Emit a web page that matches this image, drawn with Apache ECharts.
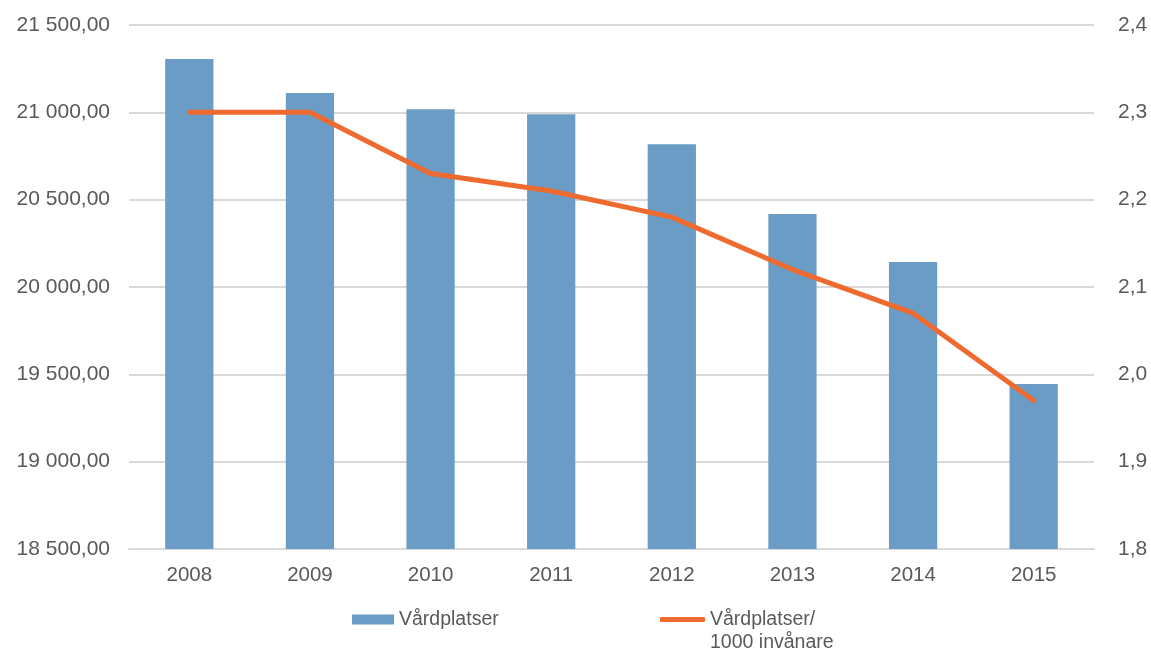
<!DOCTYPE html>
<html>
<head>
<meta charset="utf-8">
<script src="https://cdn.jsdelivr.net/npm/echarts@6/dist/echarts.min.js"></script>
<style>
  html, body { margin: 0; padding: 0; background: #fff; }
  #chart { width: 1151px; height: 652px; }
</style>
</head>
<body>
<div id="chart"></div>
<script>
/* data */
const years      = ['2008', '2009', '2010', '2011', '2012', '2013', '2014', '2015'];
const platser    = [21305, 21111, 21017, 20989, 20817, 20418, 20143, 19445];
const perTusen   = [2.30, 2.30, 2.23, 2.21, 2.18, 2.12, 2.07, 1.97];
const barName    = 'Vårdplatser';
const lineName   = 'Vårdplatser/\n1000 invånare';

const FONT = '"Liberation Sans", Arial, sans-serif';
const GREY = '#595959';

/* 21 500,00 */
const fmtLeft = (v) => {
  const parts = v.toFixed(2).split('.');
  return parts[0].replace(/\B(?=(\d{3})+(?!\d))/g, ' ') + ',' + parts[1];
};
const fmtRight = (v) => v.toFixed(1).replace('.', ',');

const chart = echarts.init(document.getElementById('chart'), null, { renderer: 'canvas' });

chart.setOption({
  animation: false,
  textStyle: { fontFamily: FONT },
  grid: { left: 129, right: 57, top: 25, bottom: 103 },
  legend: [
    {
      data: [barName], left: 347, top: 603,
      itemWidth: 42, itemHeight: 10, icon: 'rect',
      textStyle: { fontSize: 19.5, color: GREY, fontFamily: FONT, lineHeight: 23 }
    },
    {
      /* leerrad först så att ikonen hamnar vid första textraden */
      data: [{ name: lineName, icon: 'roundRect' }], left: 655, top: 580,
      itemWidth: 45, itemHeight: 5,
      formatter: (n) => '\n' + n,
      textStyle: { fontSize: 19.5, color: GREY, fontFamily: FONT, lineHeight: 23 }
    }
  ],
  xAxis: {
    type: 'category',
    data: years,
    axisTick: { show: false },
    axisLine: { lineStyle: { color: '#D9D9D9', width: 2 } },
    axisLabel: { fontSize: 20.5, color: GREY, margin: 16, fontFamily: FONT }
  },
  yAxis: [
    {
      type: 'value', min: 18500, max: 21500, interval: 500,
      axisLabel: { fontSize: 21, color: GREY, margin: 19, formatter: fmtLeft, fontFamily: FONT },
      splitLine: { lineStyle: { color: '#D9D9D9', width: 2 } },
      axisLine: { show: false }, axisTick: { show: false }
    },
    {
      type: 'value', min: 1.8, max: 2.4, interval: 0.1,
      axisLabel: { fontSize: 21, color: GREY, margin: 24, formatter: fmtRight, fontFamily: FONT },
      splitLine: { show: false },
      axisLine: { show: false }, axisTick: { show: false }
    }
  ],
  series: [
    {
      name: barName, type: 'bar', data: platser,
      barWidth: '40%',
      itemStyle: { color: '#6A9CC6' }
    },
    {
      name: lineName, type: 'line', yAxisIndex: 1, data: perTusen,
      symbol: 'none',
      lineStyle: { color: '#EE6A2F', width: 5, cap: 'round', join: 'round' },
      itemStyle: { color: '#EE6A2F' }
    }
  ]
});
</script>
</body>
</html>
